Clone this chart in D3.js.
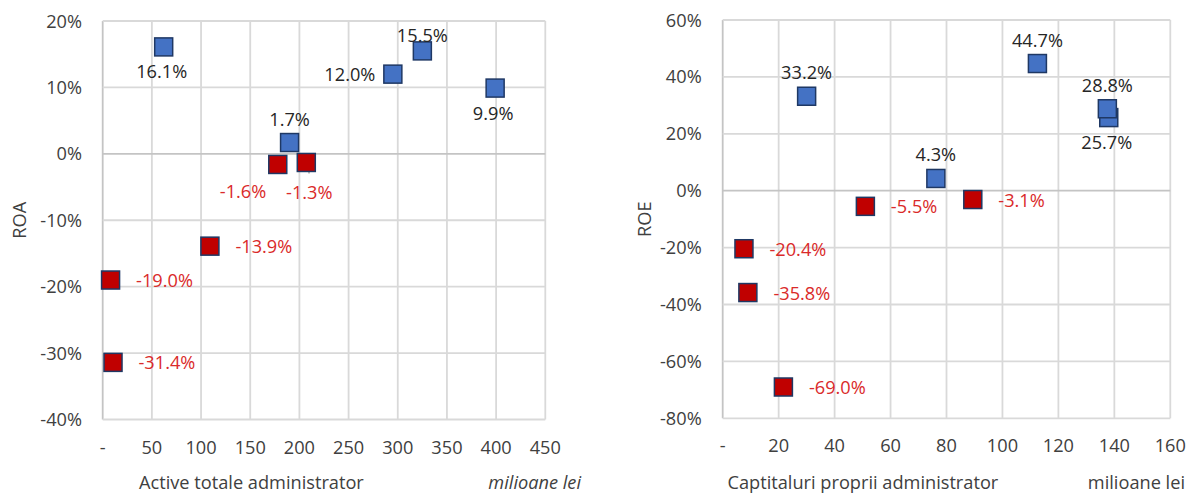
<!DOCTYPE html>
<html><head><meta charset="utf-8">
<script src="https://cdn.jsdelivr.net/npm/d3@7"></script>
<style>
body{margin:0;background:#fff;}
text{font-family:"Open Sans","Noto Sans",sans-serif;font-weight:400;}
</style></head>
<body><svg id="c" width="1190" height="493"></svg>
<script>
// ---- data ----
const roaAssets = [62, 190, 178, 207, 295, 325, 399, 109, 8, 10.5];
const roaValues = [16.1, 1.7, -1.6, -1.3, 12.0, 15.5, 9.9, -13.9, -19.0, -31.4];
const roaLabelPos = ["b", "t", "bl", "bleader", "l", "tclose", "b", "r", "r", "r"];
const roeEquity = [30, 112.5, 138, 137.5, 76.2, 89.4, 51, 7.6, 9, 21.7];
const roeValues = [33.2, 44.7, 25.7, 28.8, 4.3, -3.1, -5.5, -20.4, -35.8, -69.0];
const roeLabelPos = ["t", "t", "b", "t", "t", "r", "r", "r", "r", "r"];
const roaXTicks = [0, 50, 100, 150, 200, 250, 300, 350, 400, 450];
const roaYTicks = [-40, -30, -20, -10, 0, 10, 20];
const roeXTicks = [0, 20, 40, 60, 80, 100, 120, 140, 160];
const roeYTicks = [-80, -60, -40, -20, 0, 20, 40, 60];

const svg = d3.select("#c");
const BLUE = "#4472C4", RED = "#C00000", EDGE = "#1F3864";
const LBL = "#262626", LBLRED = "#DA2A2A", TICK = "#404040";
const GRID = "#D9D9D9", AXIS = "#C4C4C4";
const FS = 18.2;

function panel(o) {
  const g = svg.append("g");
  const x = d3.scaleLinear().domain(o.xDomain).range(o.xRange);
  const y = d3.scaleLinear().domain(o.yDomain).range(o.yRange);
  // grid
  g.selectAll(".vg").data(o.xTicks).join("line")
    .attr("x1", d => x(d)).attr("x2", d => x(d))
    .attr("y1", o.yRange[0]).attr("y2", o.yRange[1])
    .attr("stroke", d => d === 0 ? AXIS : GRID).attr("stroke-width", 1.8);
  g.selectAll(".hg").data(o.yTicks).join("line")
    .attr("x1", o.xRange[0]).attr("x2", o.xRange[1])
    .attr("y1", d => y(d)).attr("y2", d => y(d))
    .attr("stroke", d => d === 0 ? AXIS : GRID).attr("stroke-width", 1.8);
  // tick labels
  g.selectAll(".xt").data(o.xTicks).join("text")
    .attr("x", d => x(d)).attr("y", o.yRange[0] + 34)
    .attr("text-anchor", "middle").attr("fill", TICK).attr("font-size", FS)
    .text(d => d === 0 ? "-" : d);
  g.selectAll(".yt").data(o.yTicks).join("text")
    .attr("x", o.yTickX).attr("y", d => y(d) + 6.5)
    .attr("text-anchor", "end").attr("fill", TICK).attr("font-size", FS)
    .text(d => d + "%");
  // axis titles
  g.append("text").attr("transform", `translate(${o.yTitleX},${(o.yRange[0] + o.yRange[1]) / 2}) rotate(-90)`)
    .attr("text-anchor", "middle").attr("fill", TICK).attr("font-size", FS).text(o.yTitle);
  g.append("text").attr("x", o.xTitleX).attr("y", 489).attr("fill", TICK).attr("font-size", FS).text(o.xTitle);
  g.append("text").attr("x", o.unitX).attr("y", 489).attr("text-anchor", "end").attr("fill", TICK)
    .attr("font-size", FS).attr("font-style", o.unitItalic ? "italic" : "normal").text("milioane lei");

  const pts = o.xs.map((v, i) => ({ x: v, y: o.ys[i], p: o.pos[i] }));
  // leader line
  pts.filter(d => d.p === "bleader").forEach(d => {
    g.append("line").attr("x1", x(d.x)).attr("y1", y(d.y) + 1)
      .attr("x2", x(d.x) + 3).attr("y2", y(d.y) + 11)
      .attr("stroke", "#A6A6A6").attr("stroke-width", 1.5);
  });
  // markers
  const S = 18;
  g.selectAll(".m").data(pts).join("rect")
    .attr("x", d => x(d.x) - S / 2).attr("y", d => y(d.y) - S / 2)
    .attr("width", S).attr("height", S)
    .attr("fill", d => d.y >= 0 ? BLUE : RED)
    .attr("stroke", EDGE).attr("stroke-width", 1.5);
  // labels
  g.selectAll(".l").data(pts).join("text")
    .attr("font-size", FS)
    .attr("fill", d => d.y >= 0 ? LBL : LBLRED)
    .attr("text-anchor", d => ({ r: "start", l: "end", bl: "end" }[d.p] || "middle"))
    .attr("x", d => {
      const cx = x(d.x);
      if (d.p === "r") return cx + 25.5;
      if (d.p === "l") return cx - 17.5;
      if (d.p === "bl") return cx - 11.5;
      if (d.p === "bleader") return cx + 3;
      if (d.p === "b") return cx - 2;
      return cx;
    })
    .attr("y", d => {
      const cy = y(d.y);
      let c;
      if (d.p === "t") c = cy - 23.5;
      else if (d.p === "tclose") c = cy - 15;
      else if (d.p === "b") c = cy + 25;
      else if (d.p === "bl") c = cy + 27;
      else if (d.p === "bleader") c = cy + 30;
      else c = cy + 0.5;
      return c + 6.5;
    })
    .text(d => d.y.toFixed(1) + "%");
}

panel({
  xDomain: [0, 450], xRange: [102.7, 545.3],
  yDomain: [-40, 20], yRange: [419.5, 21],
  xTicks: roaXTicks, yTicks: roaYTicks,
  xs: roaAssets, ys: roaValues, pos: roaLabelPos,
  yTickX: 82, yTitleX: 26, yTitle: "ROA",
  xTitle: "Active totale administrator", xTitleX: 139, unitX: 581, unitItalic: true
});
panel({
  xDomain: [0, 160], xRange: [722.7, 1170.3],
  yDomain: [-80, 60], yRange: [418.3, 20],
  xTicks: roeXTicks, yTicks: roeYTicks,
  xs: roeEquity, ys: roeValues, pos: roeLabelPos,
  yTickX: 701.7, yTitleX: 651, yTitle: "ROE",
  xTitle: "Captitaluri proprii administrator", xTitleX: 727.5, unitX: 1185, unitItalic: false
});
</script></body></html>
